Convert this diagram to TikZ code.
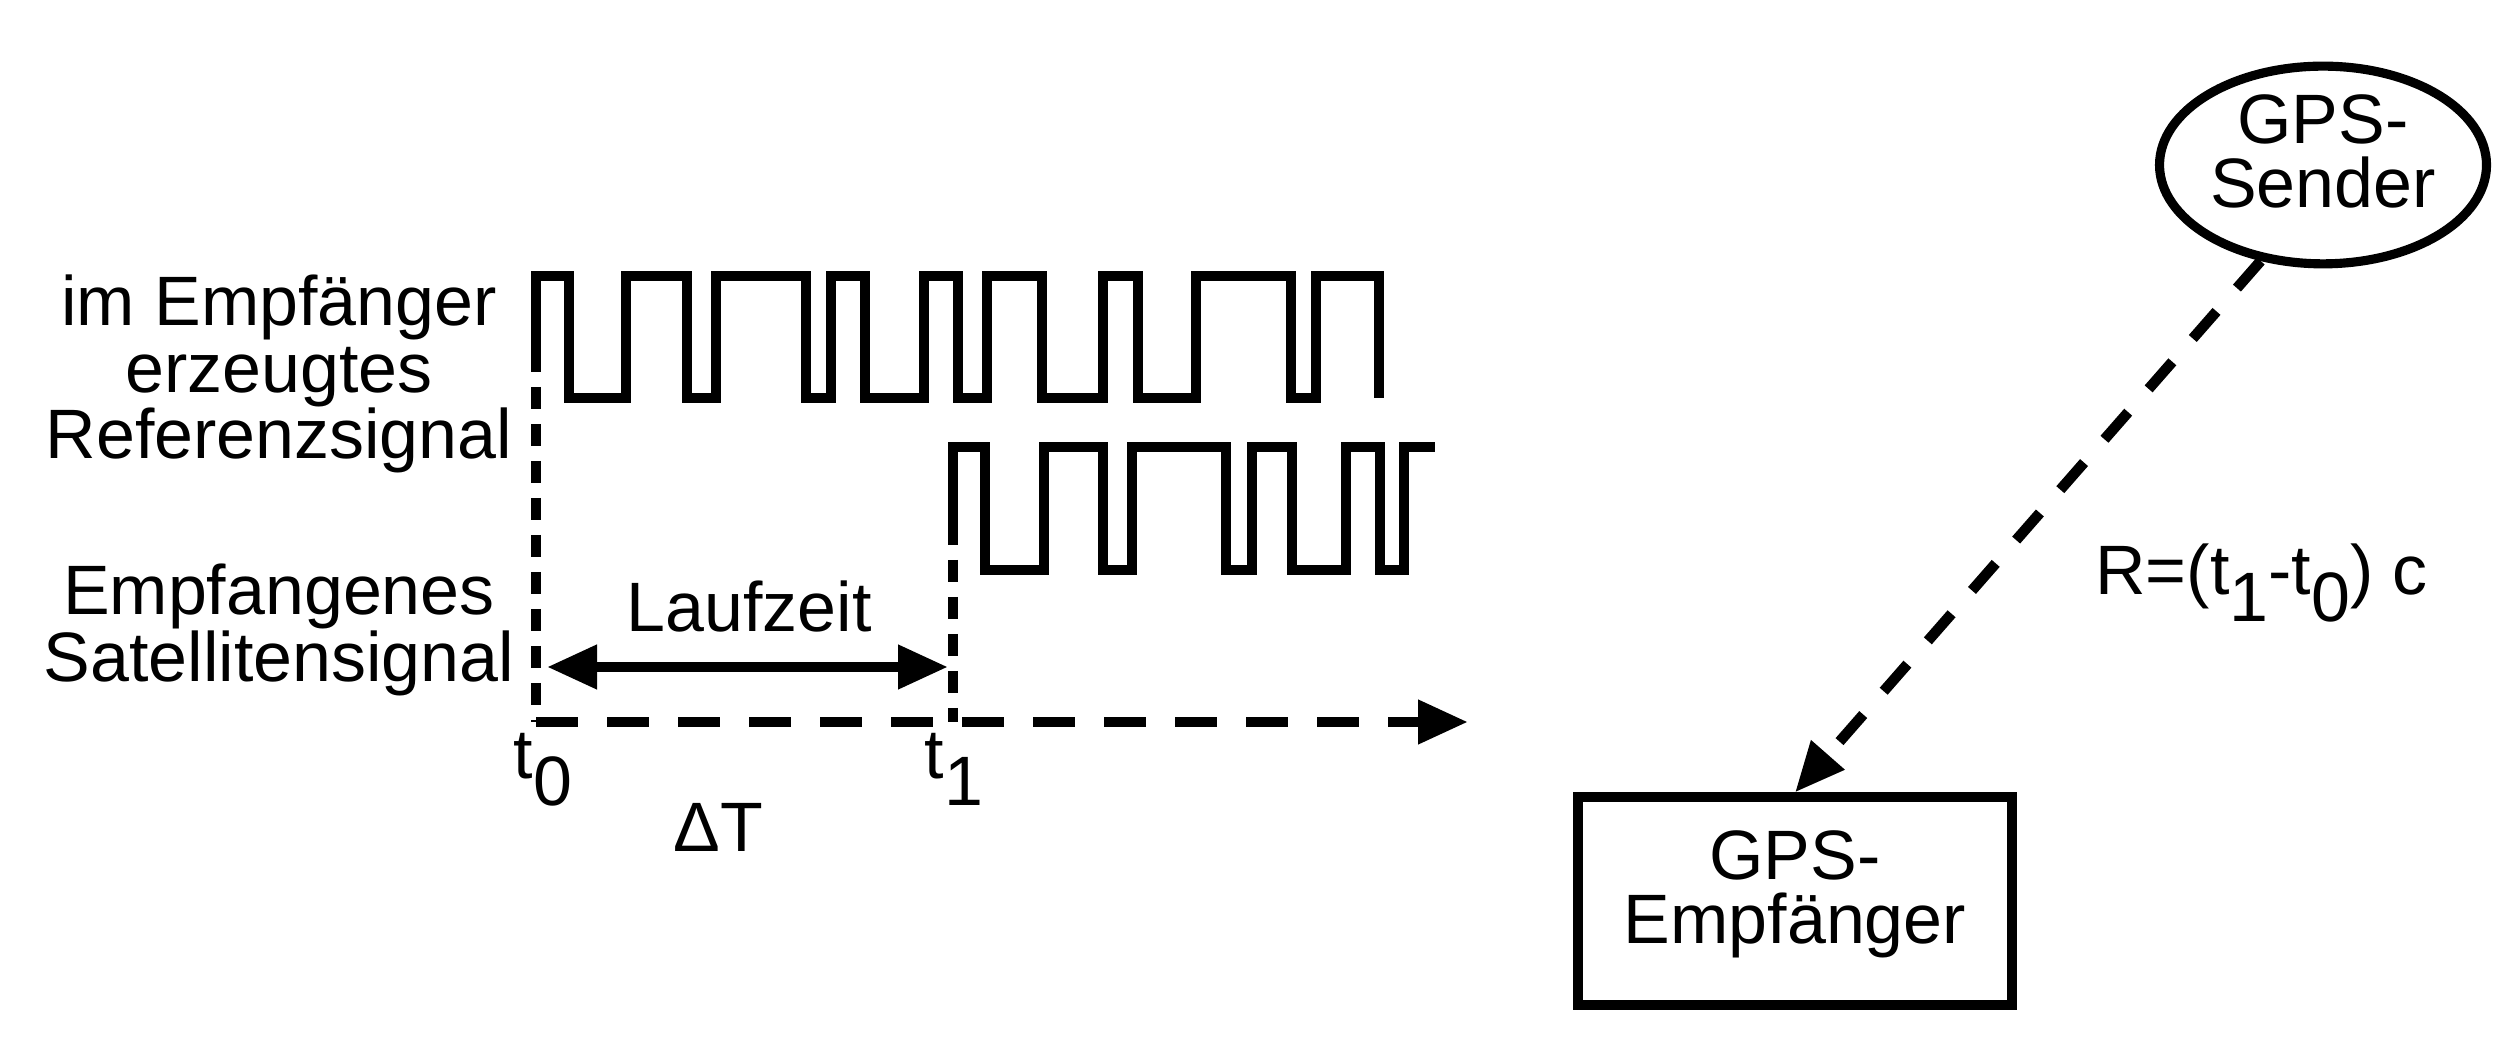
\documentclass[tikz,border=0pt]{standalone}
\usepackage{fontspec}
\setmainfont{Liberation Sans}
\usepackage{tikz}
\usetikzlibrary{shapes, arrows.meta, calc, positioning}

\newcommand{\tlow}[1]{\lower0.38em\hbox{#1}}

\begin{document}
\begin{tikzpicture}[>={Triangle[length=5mm, width=4.2mm]}, font=\fontsize{19.9}{19.9}\selectfont]
	\tikzstyle{signal} = [line width=3pt, line join=miter]
	\tikzstyle{timeline} = [line width=3pt, dash pattern=on 2.2mm off 1.5mm]
	\tikzstyle{axis} = [line width=3pt, dash pattern=on 4.2mm off 2.9mm]
	\tikzstyle{ray} = [line width=3pt, dash pattern=on 3.6mm off 3.1mm]
	\tikzstyle{sigtext} = [align=center, inner sep=0pt]
	\tikzstyle{sender} = [draw, ellipse, line width=2.6pt, inner sep=0pt, minimum width=3.27cm, minimum height=1.89cm, align=center, font=\fontsize{19.9}{18.2}\selectfont, text depth=0.27cm]
	\tikzstyle{receiver} = [draw, rectangle, line width=2.6pt, inner sep=0pt, minimum width=4.34cm, minimum height=2.08cm, align=center, font=\fontsize{19.9}{18.2}\selectfont, text depth=0.27cm]

	\useasboundingbox (0,0) rectangle (25.09,10.48);

	% Signale
	\node[sigtext, font=\fontsize{19.9}{18.8}\selectfont] (ref) at (2.79,6.74) {im Empfänger\\erzeugtes\\Referenzsignal};
	\node[sigtext, font=\fontsize{19.9}{19.3}\selectfont] (sat) at (2.79,4.18) {Empfangenes\\Satellitensignal};

	\draw[signal] (5.36,6.98) -- (5.36,7.72) -| (5.69,6.50) -| (6.26,7.72) -| (6.87,6.50)
		-| (7.16,7.72) -| (8.06,6.50) -| (8.31,7.72) -| (8.65,6.50) -| (9.24,7.72)
		-| (9.58,6.50) -| (9.87,7.72) -| (10.42,6.50) -| (11.03,7.72) -| (11.38,6.50)
		-| (11.96,7.72) -| (12.91,6.50) -| (13.16,7.72) -| (13.79,6.50);

	\draw[signal] (9.53,5.25) -- (9.53,6.01) -| (9.85,4.78) -| (10.44,6.01) -| (11.03,4.78)
		-| (11.32,6.01) -| (12.26,4.78) -| (12.52,6.01) -| (12.92,4.78) -| (13.46,6.01)
		-| (13.80,4.78) -| (14.04,6.01) -- (14.35,6.01);

	% Zeitachse
	\coordinate (t0top) at (5.36,6.98);
	\coordinate (t1top) at (9.53,5.25);
	\coordinate (t0) at (5.36,3.26);
	\coordinate (t1) at (9.53,3.26);
	\coordinate (tend) at (14.68,3.26);
	\coordinate (lzl) at (5.47,3.81);
	\coordinate (lzr) at (9.48,3.81);

	\draw[timeline] (t0top) -- (t0);
	\draw[timeline] (t1top) -- (t1);
	\draw[axis, ->] (t0) -- (tend);
	\draw[signal, <->] (lzl) -- (lzr);

	\node[anchor=base] (lauf) at (7.49,4.16) {Laufzeit};
	\node[anchor=base] (tnull) at (5.43,2.69) {t\tlow{0}};
	\node[anchor=base] (teins) at (9.54,2.69) {t\tlow{1}};
	\node[anchor=base] (delta) at (7.18,1.96) {ΔT};

	% Sender und Empfaenger
	\node[sender] (gpss) at (23.23,8.83) {GPS-\\Sender};
	\node[receiver] (gpse) at (17.95,1.47) {GPS-\\Empfänger};
	\draw[ray, ->] (gpss.237) -- (gpse.north);

	\node[anchor=base west] (range) at (20.83,4.53) {R=(t\tlow{1}-t\tlow{0}) c};
\end{tikzpicture}
\end{document}
